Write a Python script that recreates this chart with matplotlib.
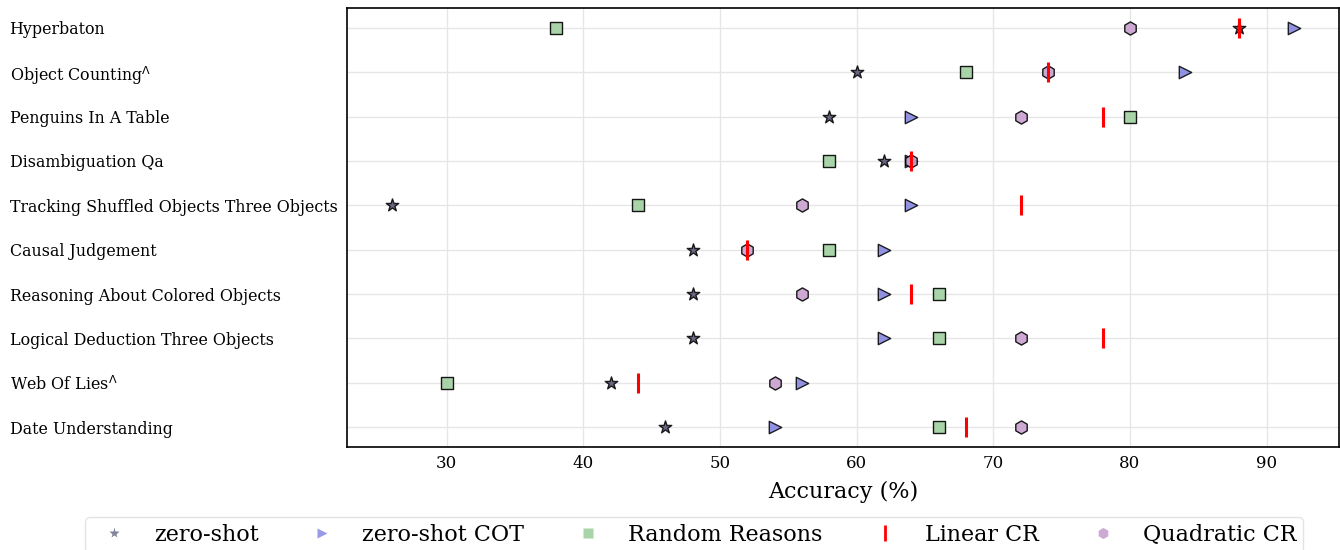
import matplotlib
matplotlib.use("Agg")
import matplotlib.pyplot as plt
from matplotlib.lines import Line2D

plt.rcParams['font.family'] = ['DejaVu Serif']

categories = ["Hyperbaton", r"Object Counting$^{\Lambda}$", "Penguins In A Table",
              "Disambiguation Qa", "Tracking Shuffled Objects Three Objects",
              "Causal Judgement", "Reasoning About Colored Objects",
              "Logical Deduction Three Objects", r"Web Of Lies$^{\Lambda}$",
              "Date Understanding"]
zero_shot = [88, 60, 58, 62, 26, 48, 48, 48, 42, 46]
zero_shot_cot = [92, 84, 64, 64, 64, 62, 62, 62, 56, 54]
random_reasons = [38, 68, 80, 58, 44, 58, 66, 66, 30, 66]
linear_cr = [88, 74, 78, 64, 72, 52, 64, 78, 44, 68]
quadratic_cr = [80, 74, 72, 64, 56, 52, 56, 72, 54, 72]
series_names = ["zero-shot", "zero-shot COT", "Random Reasons", "Linear CR", "Quadratic CR"]

fig = plt.figure(figsize=(13.4, 5.5), dpi=100)
ax = fig.add_axes([347/1340, 1-447/550, (1339-347)/1340, (447-8)/550])

n = len(categories)
ypos = [n - 1 - i for i in range(n)]

ax.scatter(zero_shot, ypos, marker='*', s=90, c='#505070', edgecolors='black', linewidths=1, alpha=0.85, zorder=3)
ax.scatter(zero_shot_cot, ypos, marker='>', s=80, c='#8080e0', edgecolors='black', linewidths=1, alpha=0.85, zorder=3)
ax.scatter(random_reasons, ypos, marker='s', s=80, c='#a0d0a0', edgecolors='black', linewidths=1, alpha=0.9, zorder=3)
ax.scatter(quadratic_cr, ypos, marker='h', s=90, c='#c8a0d0', edgecolors='black', linewidths=1, alpha=0.9, zorder=3)
ax.scatter(linear_cr, ypos, marker='|', s=200, c='red', linewidths=2.2, zorder=4)

ax.set_yticks(ypos)
ax.set_yticklabels(categories, fontsize=11.4)
for lab in ax.get_yticklabels():
    lab.set_ha('left')
ax.tick_params(axis='y', length=0, pad=243)
ax.tick_params(axis='x', length=0, labelsize=12, pad=6)
ax.set_xticks([30, 40, 50, 60, 70, 80, 90])
ax.grid(True, color='#e6e6e6', linewidth=1)
ax.set_axisbelow(True)
for sp in ax.spines.values():
    sp.set_color('black')
    sp.set_linewidth(1.2)
ax.set_xlabel("Accuracy (%)", fontsize=16, labelpad=6)

handles = [
    Line2D([], [], linestyle='none', marker='*', markersize=8, markerfacecolor='#505070', markeredgecolor='none', alpha=0.7),
    Line2D([], [], linestyle='none', marker='>', markersize=7, markerfacecolor='#8080e0', markeredgecolor='none', alpha=0.8),
    Line2D([], [], linestyle='none', marker='s', markersize=7, markerfacecolor='#a0d0a0', markeredgecolor='none', alpha=0.9),
    Line2D([], [], linestyle='none', marker='|', markersize=11, markeredgecolor='red', markeredgewidth=2),
    Line2D([], [], linestyle='none', marker='h', markersize=8, markerfacecolor='#c8a0d0', markeredgecolor='none', alpha=0.9),
]
fig.legend(handles, series_names, loc='upper center', bbox_to_anchor=(0.518, 1-506/550),
           ncol=5, fontsize=16, columnspacing=1.85, handletextpad=0.8, frameon=True,
           edgecolor='#dddddd', borderpad=0.3)

fig.savefig("out.png", dpi=100)
